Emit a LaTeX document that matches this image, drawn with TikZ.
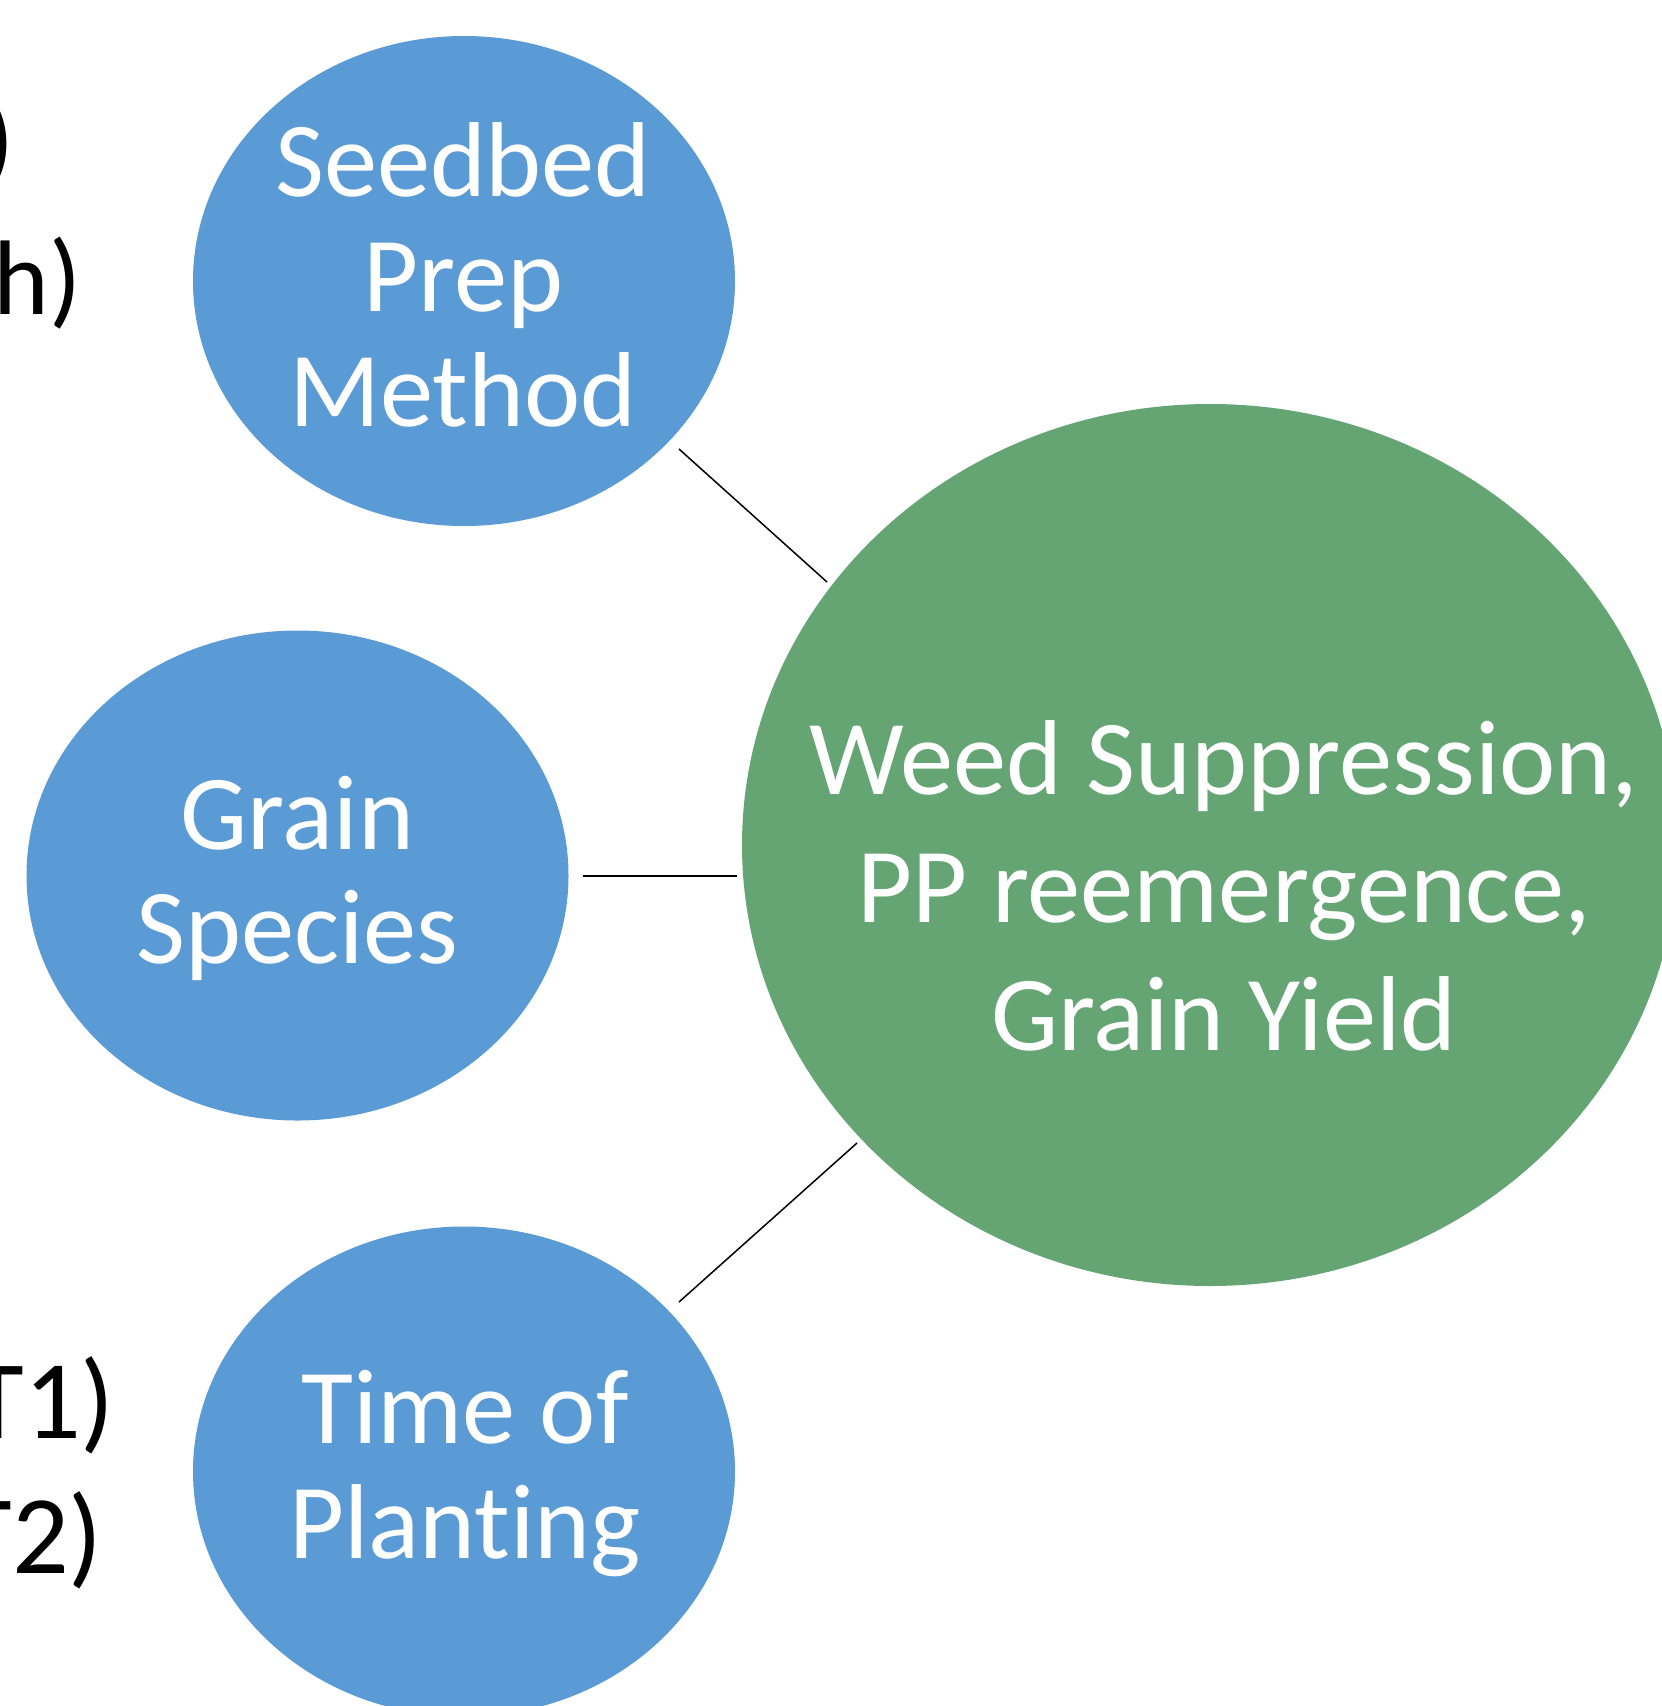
\documentclass[tikz,border=0pt]{standalone}
\usepackage{fontspec}
\setmainfont[Ligatures={NoCommon,NoRare}]{Carlito}
\usetikzlibrary{shapes.geometric}
\definecolor{bluefill}{HTML}{5B9BD5}
\definecolor{greenfill}{HTML}{65A574}
\tikzset{
  blueell/.style={ellipse, fill=bluefill, draw=none, inner sep=0pt, minimum width=542pt, minimum height=490pt},
  greenell/.style={ellipse, fill=greenfill, draw=none, inner sep=0pt, minimum width=936pt, minimum height=882pt},
  intext/.style={text=white, align=center, inner sep=0pt},
  sidetext/.style={text=black, inner sep=0pt, anchor=base east},
  link/.style={draw=black, line width=1.5pt}
}
\begin{document}
\begin{tikzpicture}[x=1pt,y=-1pt]
\useasboundingbox (0,0) rectangle (1662,1706);
\clip (0,0) rectangle (1662,1706);
\fill[white] (0,0) rectangle (1662,1706);
% ellipses
\node[blueell] (seed) at (464,281) {};
\node[blueell] (grain) at (297.5,875.5) {};
\node[blueell] (time) at (464,1471.5) {};
\node[greenell] (out) at (1210,845) {};
% texts
\node[intext, font=\fontsize{106.5pt}{115pt}\selectfont] (seedT) at (463,274.5) {Seedbed\\Prep\\Method};
\node[intext, font=\fontsize{106.5pt}{114pt}\selectfont] (grainT) at (297.5,878) {Grain\\Species};
\node[intext, font=\fontsize{106.5pt}{115pt}\selectfont] (timeT) at (465,1473) {Time of\\Planting};
\node[intext, font=\fontsize{106.5pt}{128pt}\selectfont] (outT) at (1224,886) {Weed Suppression,\\PP reemergence,\\Grain Yield};
% cut-off side texts
\node[sidetext, font=\fontsize{106pt}{120pt}\selectfont] (s1) at (15,175) {)};
\node[sidetext, font=\fontsize{106pt}{120pt}\selectfont] (s2) at (82,314) {gh)};
\node[sidetext, font=\fontsize{112pt}{130pt}\selectfont] (s3) at (115,1438) {T1)};
\node[sidetext, font=\fontsize{112pt}{130pt}\selectfont] (s4) at (103,1573) {T2)};
% connectors
\coordinate (a1) at (679,449);
\coordinate (a2) at (827,582);
\coordinate (b1) at (583,876);
\coordinate (b2) at (737,876);
\coordinate (c1) at (679,1302);
\coordinate (c2) at (857,1143);
\draw[link] (a1) -- (a2);
\draw[link] (b1) -- (b2);
\draw[link] (c1) -- (c2);
\end{tikzpicture}
\end{document}
